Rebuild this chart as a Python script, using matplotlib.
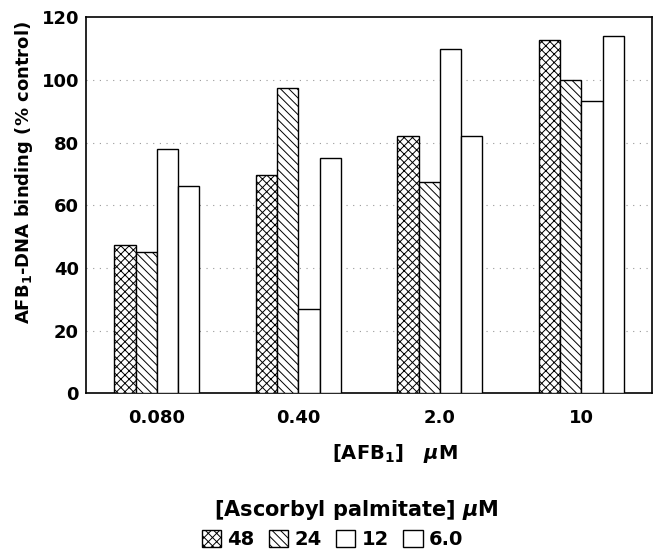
import numpy as np
import matplotlib
matplotlib.use("Agg")
import matplotlib.pyplot as plt

plt.rcParams["font.family"] = ["DejaVu Sans"]
plt.rcParams["font.weight"] = "bold"
plt.rcParams["mathtext.fontset"] = "custom"
plt.rcParams["mathtext.rm"] = "DejaVu Sans:bold"
plt.rcParams["mathtext.it"] = "DejaVu Sans:italic:bold"
plt.rcParams["mathtext.bf"] = "DejaVu Sans:bold"
plt.rcParams["hatch.linewidth"] = 0.7

# [AFB1] concentrations (uM)
afb_labels = ["0.080", "0.40", "2.0", "10"]
# [Ascorbyl palmitate] concentrations (uM)
ap_labels = ["48", "24", "12", "6.0"]

# AFB1-DNA binding, % control
binding_48 = [47.2, 69.8, 82.0, 112.7]
binding_24 = [45.1, 97.3, 67.3, 99.9]
binding_12 = [77.9, 26.8, 109.9, 93.2]
binding_6 = [66.3, 75.2, 82.1, 113.9]

series = [binding_48, binding_24, binding_12, binding_6]
hatches = ["xxxx", "\\\\\\\\", "", ""]

fig = plt.figure(figsize=(6.62, 5.57), dpi=100)
ax = fig.add_axes([0.130, 0.294, 0.855, 0.675])

x = np.arange(len(afb_labels))
width = 0.15
for i, (vals, h, lab) in enumerate(zip(series, hatches, ap_labels)):
    ax.bar(x + (i - 1.5) * width, vals, width, facecolor="white",
           edgecolor="black", linewidth=1.0, hatch=h, label=lab, zorder=3)

for yv in [20, 40, 60, 80, 100]:
    ax.axhline(yv, color="#999999", linestyle=(0, (1, 5)), linewidth=0.8, zorder=1)

ax.set_xlim(-0.5, 3.5)
ax.set_ylim(0, 120)
ax.set_yticks(range(0, 121, 20))
ax.set_xticks(x)
ax.set_xticklabels(afb_labels)
ax.tick_params(axis="both", length=0, labelsize=13)
ax.tick_params(axis="y", pad=5)
ax.tick_params(axis="x", pad=11)
for s in ax.spines.values():
    s.set_linewidth(1.2)

ax.set_ylabel("AFB$_1$-DNA binding (% control)", fontsize=13, fontweight="bold")
ax.yaxis.set_label_coords(-0.090, 0.588)
ax.set_xlabel(r"[AFB$_1$]   $\mu$M", fontsize=14, fontweight="bold")
ax.xaxis.set_label_coords(0.546, -0.130)

fig.text(0.538, 0.084, r"[Ascorbyl palmitate] $\mu$M", fontsize=15,
         fontweight="bold", ha="center", va="center")
leg = fig.legend(loc="center", bbox_to_anchor=(0.502, 0.031), ncol=4,
                 frameon=False, handlelength=1.0, handleheight=1.0,
                 handletextpad=0.3, columnspacing=0.75, fontsize=14,
                 borderpad=0.0)

fig.savefig("out.png", dpi=100)
